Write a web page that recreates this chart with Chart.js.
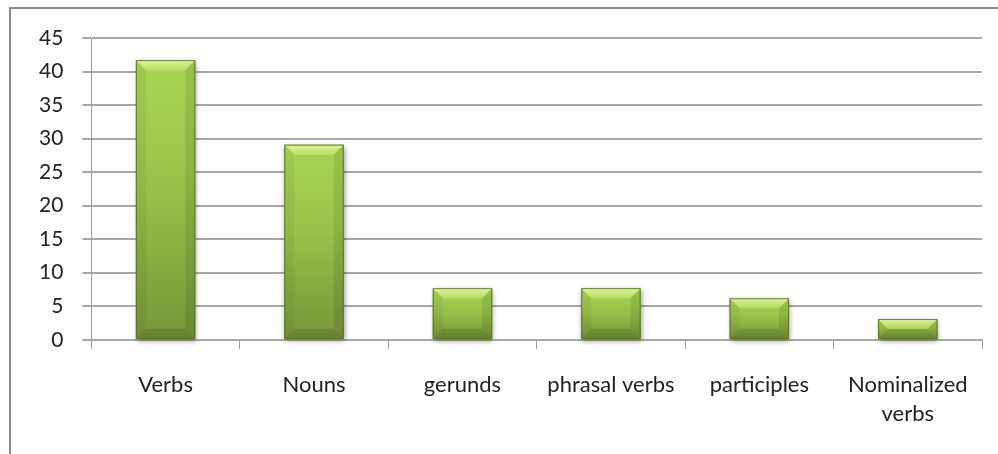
<!DOCTYPE html>
<html>
<head>
<meta charset="utf-8">
<script src="https://cdn.jsdelivr.net/npm/chart.js@4"></script>
<style>
  html, body { margin: 0; padding: 0; background: #fff; }
  #wrap { position: relative; width: 998px; height: 454px; overflow: hidden; }
  #frame { position: absolute; left: 9px; top: 7px; width: 1100px; height: 600px; border: 2px solid #8c8c8c; box-sizing: border-box; }
  canvas { position: absolute; left: 0; top: 0; }
</style>
</head>
<body>
<div id="wrap">
  <div id="frame"></div>
  <canvas id="chart" width="998" height="454"></canvas>
</div>
<script>
var categories = ['Verbs', 'Nouns', 'gerunds', 'phrasal verbs', 'participles', ['Nominalized', 'verbs']];
var counts = [41.7, 29.1, 7.7, 7.7, 6.2, 3.1];
var yTicks = [0, 5, 10, 15, 20, 25, 30, 35, 40, 45];

// draws the bevelled green look over each bar
var bevelPlugin = {
  id: 'bevel',
  afterDatasetsDraw: function(chart) {
    var ctx = chart.ctx;
    chart.getDatasetMeta(0).data.forEach(function(bar) {
      var x0 = bar.x - bar.width / 2, x1 = bar.x + bar.width / 2;
      var top = bar.y, bottom = bar.base;
      var h = bottom - top, w = x1 - x0;
      var b = Math.min(10, h / 2, w / 4);

      ctx.save();
      ctx.shadowColor = 'rgba(0,0,0,0.4)';
      ctx.shadowBlur = 5;
      ctx.shadowOffsetX = 1;
      ctx.shadowOffsetY = 2;
      ctx.fillStyle = '#7a9b35';
      ctx.fillRect(x0, top, w, h);
      ctx.restore();

      // body, light at the top and darker to the base
      var g = ctx.createLinearGradient(0, top, 0, bottom);
      g.addColorStop(0, '#a9d655');
      g.addColorStop(0.45, '#98c249');
      g.addColorStop(1, '#769638');
      ctx.fillStyle = g;
      ctx.fillRect(x0, top, w, h);

      // top bevel
      ctx.beginPath();
      ctx.moveTo(x0, top); ctx.lineTo(x1, top); ctx.lineTo(x1 - b, top + b); ctx.lineTo(x0 + b, top + b); ctx.closePath();
      var gt = ctx.createLinearGradient(0, top, 0, top + b);
      gt.addColorStop(0, 'rgba(240,255,170,0.75)');
      gt.addColorStop(1, 'rgba(220,250,140,0.35)');
      ctx.fillStyle = gt; ctx.fill();

      // left bevel
      ctx.beginPath();
      ctx.moveTo(x0, top); ctx.lineTo(x0 + b, top + b); ctx.lineTo(x0 + b, bottom - b); ctx.lineTo(x0, bottom); ctx.closePath();
      ctx.fillStyle = 'rgba(0,0,0,0.05)'; ctx.fill();

      // right bevel
      ctx.beginPath();
      ctx.moveTo(x1, top); ctx.lineTo(x1 - b, top + b); ctx.lineTo(x1 - b, bottom - b); ctx.lineTo(x1, bottom); ctx.closePath();
      ctx.fillStyle = 'rgba(0,0,0,0.09)'; ctx.fill();

      // bottom bevel
      ctx.beginPath();
      ctx.moveTo(x0, bottom); ctx.lineTo(x0 + b, bottom - b); ctx.lineTo(x1 - b, bottom - b); ctx.lineTo(x1, bottom); ctx.closePath();
      ctx.fillStyle = 'rgba(0,0,0,0.12)'; ctx.fill();

      ctx.strokeStyle = 'rgba(80,110,30,0.8)';
      ctx.lineWidth = 1;
      ctx.strokeRect(x0 + 0.5, top + 0.5, w - 1, h - 1);
    });
  }
};

new Chart(document.getElementById('chart'), {
  type: 'bar',
  data: {
    labels: categories,
    datasets: [{
      data: counts,
      backgroundColor: 'rgba(0,0,0,0)',
      borderWidth: 0,
      barPercentage: 0.8,
      categoryPercentage: 0.5
    }]
  },
  plugins: [bevelPlugin],
  options: {
    responsive: false,
    animation: false,
    layout: { padding: { left: 20, top: 38, right: 16, bottom: 4 } },
    plugins: { legend: { display: false }, tooltip: { enabled: false } },
    scales: {
      x: {
        grid: { drawOnChartArea: false, color: '#9a9a9a', lineWidth: 1, tickLength: 9 },
        border: { color: '#a8a8a8', width: 2 },
        ticks: { color: '#222', font: { family: 'Lato', size: 22, lineHeight: 1.3 }, padding: 22, maxRotation: 0, autoSkip: false }
      },
      y: {
        min: 0, max: 45,
        afterBuildTicks: function(axis) { axis.ticks = yTicks.map(function(v) { return { value: v }; }); },
        grid: { color: '#a8a8a8', lineWidth: 2, tickLength: 9 },
        border: { color: '#9a9a9a', width: 1 },
        ticks: { color: '#222', font: { family: 'Lato', size: 21 }, padding: 19 }
      }
    }
  }
});
</script>
</body>
</html>
